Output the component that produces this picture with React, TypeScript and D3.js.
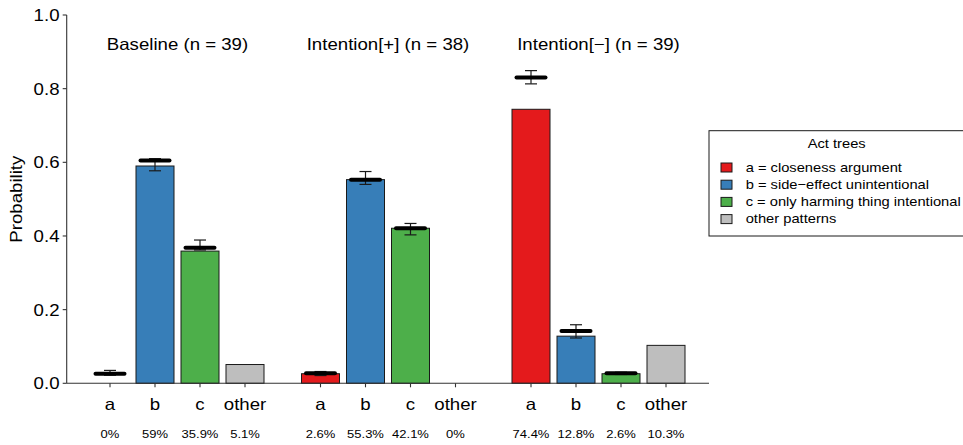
import React from "react";
import * as d3 from "d3";

const groups = ["Baseline (n = 39)", "Intention[+] (n = 38)", "Intention[\u2212] (n = 39)"];
const categories = ["a", "b", "c", "other"];
const yTicks = [0, 0.2, 0.4, 0.6, 0.8, 1.0];

const observedBaseline = [0, 0.59, 0.359, 0.051];
const observedIntentionPlus = [0.026, 0.553, 0.421, 0];
const observedIntentionMinus = [0.744, 0.128, 0.026, 0.103];

const pctBaseline = ["0%", "59%", "35.9%", "5.1%"];
const pctIntentionPlus = ["2.6%", "55.3%", "42.1%", "0%"];
const pctIntentionMinus = ["74.4%", "12.8%", "2.6%", "10.3%"];

const modelMeanBaseline = [0.026, 0.605, 0.368, null];
const modelLowBaseline = [0.022, 0.577, 0.362, null];
const modelHighBaseline = [0.035, 0.61, 0.389, null];

const modelMeanIntentionPlus = [0.027, 0.553, 0.421, null];
const modelLowIntentionPlus = [0.021, 0.54, 0.403, null];
const modelHighIntentionPlus = [0.032, 0.575, 0.434, null];

const modelMeanIntentionMinus = [0.83, 0.142, 0.027, null];
const modelLowIntentionMinus = [0.813, 0.123, 0.024, null];
const modelHighIntentionMinus = [0.849, 0.159, 0.03, null];

const legendTitle = "Act trees";
const legendLabels = [
  "a = closeness argument",
  "b = side\u2212effect unintentional",
  "c = only harming thing intentional",
  "other patterns",
];
const colors = ["#E41A1C", "#377EB8", "#4DAF4A", "#BEBEBE"];

const observed = [observedBaseline, observedIntentionPlus, observedIntentionMinus];
const pcts = [pctBaseline, pctIntentionPlus, pctIntentionMinus];
const means = [modelMeanBaseline, modelMeanIntentionPlus, modelMeanIntentionMinus];
const lows = [modelLowBaseline, modelLowIntentionPlus, modelLowIntentionMinus];
const highs = [modelHighBaseline, modelHighIntentionPlus, modelHighIntentionMinus];

const W = 963;
const H = 445;
const SX = 1.13;
const FONT = "'Liberation Sans', Arial, Helvetica, sans-serif";
const AX = "#333333";

function T({ x, y, size, anchor = "middle", rotate = 0, children }: any) {
  return (
    <text
      transform={`translate(${x},${y})${rotate ? ` rotate(${rotate})` : ""} scale(${SX},1)`}
      fontSize={size}
      textAnchor={anchor}
      fontFamily={FONT}
      fill="#000"
    >
      {children}
    </text>
  );
}

export default function App() {
  const y = d3.scaleLinear().domain([0, 1]).range([383.3, 15]);
  const gx = d3.scaleBand<string>().domain(groups).range([87.5, 688.5]).paddingInner(30.5 / 210.5);
  const ix = d3
    .scaleBand<string>()
    .domain(categories)
    .range([0, gx.bandwidth()])
    .paddingInner(7 / 45)
    .paddingOuter(3.5 / 45);
  const axisX0 = 66.7;
  const axisX1 = 709;
  const y0 = y(0);

  return (
    <svg width={W} height={H} style={{ position: "absolute", left: 0, top: 0, background: "#fff" }}>
      <rect x={0} y={0} width={W} height={H} fill="#fff" />
      {/* bars */}
      {groups.map((g, gi) => (
        <g key={g}>
          {categories.map((c, ci) => {
            const x = (gx(g) as number) + (ix(c) as number);
            const v = observed[gi][ci];
            return (
              <rect
                key={c}
                x={x}
                y={y(v)}
                width={ix.bandwidth()}
                height={y0 - y(v)}
                fill={colors[ci]}
                stroke="#1a1a1a"
                strokeWidth={1}
              />
            );
          })}
        </g>
      ))}
      {/* axes */}
      <line x1={axisX0} x2={axisX1} y1={y0} y2={y0} stroke={AX} strokeWidth={1.1} />
      <line x1={axisX0} x2={axisX0} y1={y(1)} y2={y0} stroke={AX} strokeWidth={1.1} />
      {yTicks.map((t) => (
        <g key={t}>
          <line x1={axisX0 - 4} x2={axisX0} y1={y(t)} y2={y(t)} stroke={AX} strokeWidth={1.1} />
          <T x={59.5} y={y(t) + 6} size={16.5} anchor="end">
            {t.toFixed(1)}
          </T>
        </g>
      ))}
      {/* model predictions */}
      {groups.map((g, gi) => (
        <g key={"m" + g}>
          {categories.map((c, ci) => {
            const m = means[gi][ci];
            if (m == null) return null;
            const cx = (gx(g) as number) + (ix(c) as number) + ix.bandwidth() / 2;
            const lo = lows[gi][ci] as number;
            const hi = highs[gi][ci] as number;
            return (
              <g key={c}>
                <line x1={cx} x2={cx} y1={y(lo)} y2={y(hi)} stroke="#1a1a1a" strokeWidth={1.2} />
                <line x1={cx - 6} x2={cx + 6} y1={y(lo)} y2={y(lo)} stroke="#1a1a1a" strokeWidth={1.2} />
                <line x1={cx - 6} x2={cx + 6} y1={y(hi)} y2={y(hi)} stroke="#1a1a1a" strokeWidth={1.2} />
                <line
                  x1={cx - 14.5}
                  x2={cx + 14.5}
                  y1={y(m)}
                  y2={y(m)}
                  stroke="#000"
                  strokeWidth={4}
                  strokeLinecap="round"
                />
              </g>
            );
          })}
        </g>
      ))}
      {/* x ticks and labels */}
      {groups.map((g, gi) => (
        <g key={"x" + g}>
          <T x={(gx(g) as number) + gx.bandwidth() / 2} y={50} size={16.5}>
            {g}
          </T>
          {categories.map((c, ci) => {
            const cx = (gx(g) as number) + (ix(c) as number) + ix.bandwidth() / 2;
            return (
              <g key={c}>
                <line x1={cx} x2={cx} y1={y0} y2={y0 + 4} stroke={AX} strokeWidth={1.1} />
                <T x={cx} y={410} size={16.5}>
                  {c}
                </T>
                <T x={cx} y={438} size={11.5}>
                  {pcts[gi][ci]}
                </T>
              </g>
            );
          })}
        </g>
      ))}
      {/* y label */}
      <T x={21.5} y={(y(0) + y(1)) / 2} size={16.5} rotate={-90}>
        Probability
      </T>
      {/* legend */}
      <rect x={709} y={130.7} width={260} height={105.3} fill="#fff" stroke="#1a1a1a" strokeWidth={1} />
      <T x={836.7} y={148.3} size={13}>
        {legendTitle}
      </T>
      {legendLabels.map((l, i) => (
        <g key={l}>
          <rect
            x={721}
            y={163 + i * 17.2}
            width={11}
            height={9}
            fill={colors[i]}
            stroke="#1a1a1a"
            strokeWidth={1}
          />
          <T x={745.7} y={171.7 + i * 17.2} size={13} anchor="start">
            {l}
          </T>
        </g>
      ))}
    </svg>
  );
}
